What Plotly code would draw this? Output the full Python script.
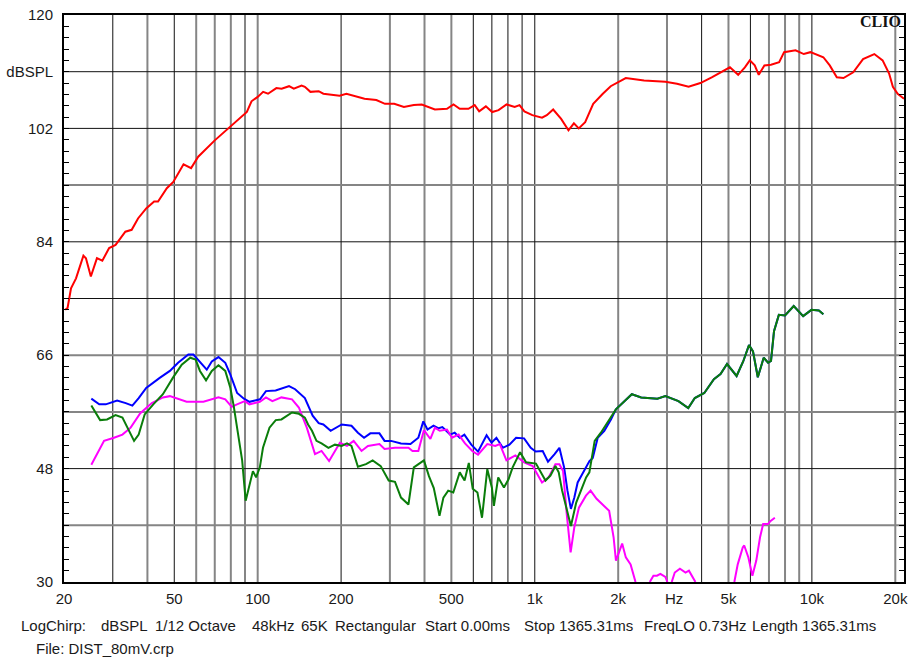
import numpy as np
import plotly.graph_objects as go

# ---- measured curves (frequency in Hz, level in dBSPL) ----
red_f = [20.2, 20.6, 21.2, 22.1, 23.5, 24.0, 25.0, 26.3, 27.5, 29.1, 30.7, 33.3, 35.1, 37.0,
         39.6, 42.3, 43.7, 47.0, 49.6, 54.0, 57.5, 61.0, 70.0, 79.3, 91.4, 95, 100, 104.6, 109,
         116.8, 122, 129.8, 135, 144, 148, 155, 166, 172.6, 185, 197.5, 209, 224, 243, 268, 288,
         311, 337, 366, 391, 436, 482, 509, 536, 576, 607, 630, 666, 702, 740, 791, 846, 881,
         917, 980, 1062, 1105, 1165, 1245, 1323, 1384, 1441, 1520, 1625, 1760, 1879, 2130, 2480,
         2960, 3260, 3590, 3960, 4350, 4920, 5060, 5420, 5730, 5970, 6220, 6430, 6740, 7120,
         7620, 7940, 8730, 9350, 9880, 11000, 11600, 12300, 13000, 14100, 15300, 16800, 18000,
         19000, 19600, 20400, 21500]
red_db = [73.2, 73.5, 76.6, 78.2, 81.8, 81.4, 78.5, 81.4, 81.0, 83.0, 83.5, 85.6, 85.9, 87.7,
          89.3, 90.4, 90.4, 92.5, 93.5, 96.3, 95.7, 97.5, 100.1, 102.2, 104.6, 106.3, 107.0,
          107.8, 107.5, 108.4, 108.3, 108.7, 108.3, 108.8, 108.6, 107.8, 107.9, 107.5, 107.3,
          107.2, 107.5, 107.1, 106.7, 106.5, 105.9, 105.9, 105.4, 105.7, 105.8, 105.0, 105.1,
          105.8, 105.1, 105.1, 105.7, 104.7, 105.5, 104.6, 104.9, 105.8, 105.4, 105.7, 104.7,
          104.1, 103.7, 104.1, 105.0, 103.5, 101.7, 102.8, 102.0, 103.0, 105.9, 107.5, 108.7,
          110.0, 109.6, 109.4, 109.1, 108.6, 109.2, 110.1, 111.5, 111.7, 110.5, 111.7, 112.8,
          112.0, 110.5, 112.0, 112.1, 112.5, 114.1, 114.4, 113.8, 114.1, 113.3, 112.0, 110.1,
          110.0, 110.9, 113.0, 113.8, 112.8, 110.7, 108.6, 107.5, 106.7]

blue_f = [25.1, 26.8, 28.3, 31.1, 33.4, 35.3, 37.2, 39.6, 44.3, 48.2, 51.6, 56.2, 58.6, 61.9,
          65.5, 68.3, 72.2, 76.4, 79.7, 84.3, 89.2, 93.4, 101.9, 107.1, 116.1, 129.7, 136.5,
          148, 157.9, 166, 172.6, 183.4, 201, 218, 230, 242, 255, 275, 287, 303, 329, 356, 380,
          396, 410, 431, 450, 464, 495, 514, 536, 557, 590, 624, 670, 698, 727, 767, 810, 856,
          915, 967, 1007, 1068, 1116, 1179, 1227, 1276, 1312, 1350, 1389, 1428, 1511, 1575,
          1619, 1687, 1782, 1883, 1962, 2240, 2420, 2770, 2960, 3300, 3580, 3780, 4090, 4430,
          4680, 4940, 5350, 5650, 5930, 6130, 6380, 6700, 6950, 7120, 7300, 7600, 8000, 8600,
          9300, 9960, 10600, 11000]
blue_db = [59.1, 58.2, 58.2, 58.8, 58.4, 58.0, 59.2, 60.8, 62.4, 63.5, 64.8, 66.1, 66.1, 65.0,
           63.7, 65.0, 65.7, 64.8, 62.9, 60.0, 59.1, 58.6, 59.0, 60.3, 60.4, 61.1, 60.6, 59.2,
           56.4, 55.2, 55.0, 54.0, 55.0, 54.8, 53.7, 52.9, 53.6, 53.6, 52.4, 52.4, 52.0, 51.9,
           52.9, 55.5, 54.2, 54.8, 54.4, 54.6, 53.4, 53.7, 52.9, 53.4, 51.8, 50.7, 53.3, 52.1,
           52.9, 51.3, 51.8, 52.9, 52.8, 51.3, 50.7, 50.8, 49.1, 50.3, 51.3, 48.2, 44.5, 41.6,
           43.4, 45.8, 47.9, 49.2, 49.7, 52.9, 54.0, 55.8, 57.4, 59.8, 59.3, 59.1, 59.5, 58.7,
           57.6, 59.2, 60.0, 62.2, 63.0, 64.6, 62.7, 65.0, 67.6, 66.6, 62.5, 65.6, 64.8, 65.1,
           69.8, 72.4, 72.3, 73.8, 72.2, 73.2, 73.1, 72.5]

green_f = [25.1, 27.0, 28.6, 30.7, 32.5, 34.4, 35.8, 37.2, 39.1, 42.0, 45.5, 49.4, 53.2, 57.1,
           59.7, 61.9, 65.1, 68.3, 72.2, 76.4, 79.7, 81.9, 84.2, 87.9, 90.5, 93.4, 96.1, 98.7,
           101.8, 104.5, 110.3, 116.2, 121.8, 133, 140.8, 148, 152, 157, 163, 170, 180, 190,
           201, 210, 218, 230, 246, 260, 278, 297, 313, 329, 350, 366, 398, 415, 432, 453, 468,
           487, 508, 536, 558, 578, 597, 621, 645, 674, 700, 712, 738, 774, 804, 832, 885, 930,
           1010, 1093, 1139, 1187, 1220, 1255, 1312, 1350, 1411, 1470, 1532, 1574, 1645, 1732,
           1962, 2240, 2420, 2770, 2960, 3300, 3580, 3780, 4090, 4430, 4680, 4940, 5350, 5650,
           5930, 6130, 6380, 6700, 6950, 7120, 7300, 7600, 8000, 8600, 9300, 9960, 10600, 11000]
green_db = [58.0, 55.7, 55.8, 56.5, 56.1, 54.0, 52.4, 53.4, 56.6, 58.2, 59.8, 62.4, 64.5, 65.6,
            65.3, 63.5, 62.0, 63.5, 64.4, 63.5, 60.8, 58.0, 54.5, 49.3, 42.9, 45.5, 47.6, 46.6,
            48.2, 51.3, 54.5, 55.7, 55.8, 56.9, 56.7, 56.1, 55.0, 54.0, 52.4, 52.0, 51.3, 51.8,
            51.6, 52.0, 51.6, 48.3, 48.7, 49.3, 48.4, 46.1, 45.9, 43.4, 42.3, 48.2, 49.3, 46.8,
            44.9, 40.5, 43.4, 44.5, 44.2, 47.4, 46.1, 48.9, 44.8, 44.2, 40.2, 47.9, 45.0, 42.1,
            46.6, 45.0, 46.3, 48.2, 50.6, 49.0, 48.8, 46.1, 46.9, 48.4, 47.4, 44.5, 41.3, 38.9,
            42.6, 44.7, 46.6, 47.4, 52.4, 53.7, 57.4, 59.8, 59.3, 59.1, 59.5, 58.7, 57.6, 59.2,
            60.0, 62.2, 63.0, 64.6, 62.7, 65.0, 67.6, 66.6, 62.5, 65.6, 64.8, 65.1, 69.8, 72.4,
            72.3, 73.8, 72.2, 73.2, 73.1, 72.5]

# None marks stretches that fall below the 30 dB floor of the plot
magenta_f = [25.1, 26.4, 27.9, 30.3, 32.5, 34.8, 37.7, 41.5, 45.5, 48.2, 51.6, 55.4, 63.7, 68.3,
             72.2, 76.4, 80.6, 84.2, 89.9, 93.4, 101.8, 107.1, 113, 121.8, 133, 140.8, 150.4,
             161, 170, 181, 190, 198, 210, 222, 237, 250, 275, 287, 313, 350, 362, 380, 398,
             420, 436, 454, 482, 503, 531, 560, 595, 624, 674, 720, 748, 790, 851, 915, 983,
             1062, 1122, 1187, 1227, 1265, 1304, 1347, 1389, 1443, 1530, 1590, 1671, 1783, 1855,
             1925, 1963, 2067, 2131, 2217, 2310, 2400, 2600, 2680, 2760, 2840, 2960, 3010, 3070,
             3120, 3200, 3340, 3500, 3600, 3800, 4500, 5250, 5400, 5630, 5700, 5900, 6100, 6300,
             6500, 6670, 6940, 7100, 7350]
magenta_db = [48.6, 50.3, 52.4, 52.9, 53.4, 54.5, 56.8, 58.4, 59.3, 59.5, 59.0, 58.6, 58.6, 59.0,
              59.3, 59.0, 57.8, 58.2, 58.7, 58.2, 58.6, 59.3, 58.7, 59.3, 59.0, 57.7, 54.5, 50.3,
              50.8, 49.2, 50.8, 52.1, 51.6, 52.4, 50.8, 51.6, 51.9, 51.1, 51.3, 51.3, 50.8, 50.8,
              54.1, 52.7, 54.5, 54.0, 54.2, 52.9, 53.4, 52.0, 50.8, 50.2, 51.9, 51.6, 51.9, 49.3,
              50.1, 49.0, 48.4, 45.8, 46.6, 48.7, 48.7, 47.6, 40.8, 34.7, 38.7, 41.8, 43.7, 44.5,
              43.2, 42.1, 41.3, 37.1, 33.4, 36.1, 33.9, 32.8, 30.0, None, 30.0, 31.0, 31.0, 31.3,
              30.8, 30.0, None, 30.0, 31.5, 32.1, 31.5, 31.8, 30.0, None, 30.0, 32.8, 35.5, 35.8,
              33.9, 31.0, 33.4, 37.1, 39.2, 39.2, 39.7, 40.2]

# ---- axis labelling ----
x_tick_vals = [20, 50, 100, 200, 500, 1000, 2000, 5000, 10000, 20000]
x_tick_text = ["20", "50", "100", "200", "500", "1k", "2k", "5k", "10k", "20k"]
y_tick_vals = [30, 48, 66, 84, 102, 111, 120]
y_tick_text = ["30", "48", "66", "84", "102", "dBSPL", "120"]

x_grid = [30, 40, 50, 60, 70, 80, 90, 100, 200, 300, 400, 500, 600, 700, 800, 900, 1000,
          2000, 3000, 4000, 5000, 6000, 7000, 8000, 9000, 10000, 20000]
x_grid_dark = {30, 50, 200, 600, 700, 800, 900, 1000, 4000, 6000, 10000}
y_grid = [39, 48, 57, 66, 75, 84, 93, 102, 111]
y_grid_dark = {48, 75, 84, 102, 111}

footer_items = [("LogChirp:", 15), ("dBSPL", 95), ("1/12 Octave", 150), ("48kHz", 248),
                ("65K", 297), ("Rectangular", 332), ("Start 0.00ms", 422),
                ("Stop 1365.31ms", 522), ("FreqLO 0.73Hz", 643), ("Length 1365.31ms", 753)]

FONT = "Liberation Sans, Arial, sans-serif"
W, H = 914, 663
ML, MR, MT, MB = 60, 6, 13, 81
PW, PH = W - ML - MR, H - MT - MB

fig = go.Figure()
for f, db, col in [(red_f, red_db, "#ff0000"), (blue_f, blue_db, "#0000ff"),
                   (magenta_f, magenta_db, "#ff00ff"), (green_f, green_db, "#0a7d0a")]:
    fig.add_trace(go.Scatter(x=f, y=db, mode="lines", connectgaps=False,
                             line=dict(color=col, width=2), hoverinfo="skip"))

shapes = []
for g in x_grid:
    dark = g in x_grid_dark
    shapes.append(dict(type="line", xref="x", yref="paper", x0=g, x1=g, y0=0, y1=1, layer="below",
                       line=dict(color="#111111" if dark else "#858585", width=1 if dark else 2)))
for g in y_grid:
    dark = g in y_grid_dark
    shapes.append(dict(type="line", xref="paper", yref="y", x0=0, x1=1, y0=g, y1=g, layer="below",
                       line=dict(color="#111111" if dark else "#858585", width=1 if dark else 2)))

annotations = []
for text, px in footer_items:
    annotations.append(dict(text=text, xref="paper", yref="paper", x=(px - ML) / PW,
                            y=1 - (626 - MT) / PH, xanchor="left", yanchor="middle",
                            showarrow=False, font=dict(family=FONT, size=15, color="#1a1a1a")))
annotations.append(dict(text="File: DIST_80mV.crp", xref="paper", yref="paper",
                        x=(30 - ML) / PW, y=1 - (649 - MT) / PH, xanchor="left",
                        yanchor="middle", showarrow=False,
                        font=dict(family=FONT, size=15, color="#1a1a1a")))
annotations.append(dict(text="Hz", xref="x", yref="paper", x=np.log10(3170),
                        y=1 - (599 - MT) / PH, xanchor="center", yanchor="middle",
                        showarrow=False, font=dict(family=FONT, size=15, color="#1a1a1a")))
annotations.append(dict(text="<b>CLIO</b>", xref="paper", yref="paper", x=1 - 1.5 / PW,
                        y=1 - (20 - MT) / PH, xanchor="right", yanchor="middle",
                        showarrow=False,
                        font=dict(family="Liberation Serif, Times New Roman, serif", size=16,
                                  color="#111111")))

fig.update_layout(
    width=W, height=H, margin=dict(l=ML, r=MR, t=MT, b=MB, pad=0),
    plot_bgcolor="white", paper_bgcolor="white", showlegend=False,
    shapes=shapes, annotations=annotations,
    xaxis=dict(type="log", range=[np.log10(20), np.log10(21500)], tickmode="array",
               tickvals=x_tick_vals, ticktext=x_tick_text, showgrid=False, zeroline=False,
               showline=True, linecolor="black", linewidth=2, mirror=True, ticks="",
               ticklabelstandoff=2, tickfont=dict(family=FONT, size=15, color="#1a1a1a")),
    yaxis=dict(range=[30, 120], tickmode="array", tickvals=y_tick_vals, ticktext=y_tick_text,
               showgrid=False, zeroline=False, showline=True, linecolor="black", linewidth=2,
               mirror="allticks", ticks="", ticklabelstandoff=6,
               tickfont=dict(family=FONT, size=15, color="#1a1a1a"),
               minor=dict(tickmode="array", tickvals=list(np.round(np.arange(30, 120, 1.8), 1)),
                          ticks="inside", ticklen=5, tickcolor="black", tickwidth=1,
                          showgrid=False)),
)

fig.write_html("out.html")
